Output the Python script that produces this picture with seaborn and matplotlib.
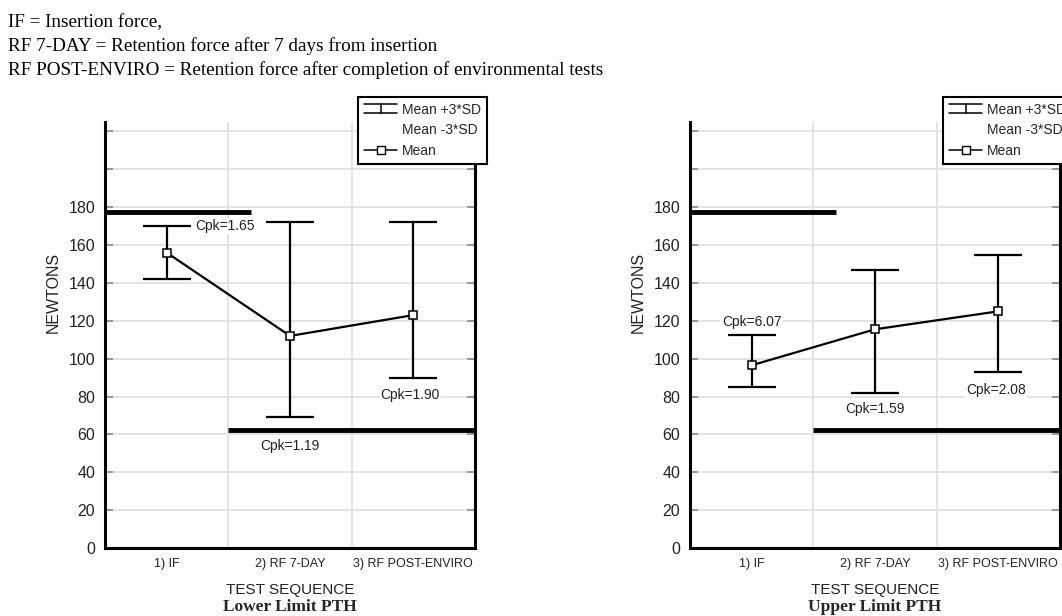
import seaborn as sns
import numpy as np
import pandas as pd
import matplotlib.pyplot as plt
from matplotlib.lines import Line2D
from matplotlib.legend_handler import HandlerBase

categories = ['1) IF', '2) RF 7-DAY', '3) RF POST-ENVIRO']

# lower limit PTH
low_mean = [156, 112, 123]
low_hi = [170, 172, 172]
low_lo = [142, 69, 90]
low_cpk = ['Cpk=1.65', 'Cpk=1.19', 'Cpk=1.90']

# upper limit PTH
up_mean = [96.5, 115.5, 125]
up_hi = [112.5, 147, 155]
up_lo = [85, 82, 93]
up_cpk = ['Cpk=6.07', 'Cpk=1.59', 'Cpk=2.08']

spec_max = 177.5
spec_min = 62.5

yticks = list(range(0, 221, 20))
ytick_labels = [str(v) if v <= 180 else '' for v in yticks]

notes = ['IF = Insertion force,',
         'RF 7-DAY = Retention force after 7 days from insertion',
         'RF POST-ENVIRO = Retention force after completion of environmental tests']

# where the Cpk notes sit (category units, newtons)
low_cpk_pos = [(0.47, 170), (1.0, 54), (1.97, 81)]
up_cpk_pos = [(0.0, 119.5), (1.0, 73.5), (1.98, 83.5)]


class IBeamHandler(HandlerBase):
    # the "mean +/- 3SD" glyph in the legend
    def create_artists(self, legend, orig_handle, xdescent, ydescent,
                       width, height, fontsize, trans):
        x0, x1 = -xdescent, -xdescent + width
        xm = (x0 + x1) / 2
        yt = -ydescent + height * 1.05
        yb = -ydescent + height * 0.1
        arts = [Line2D([x0, x1], [yt, yt]), Line2D([x0, x1], [yb, yb]),
                Line2D([xm, xm], [yb, yt])]
        for a in arts:
            a.set_color('black')
            a.set_linewidth(1.1)
            a.set_transform(trans)
        return arts


def draw_panel(ax, mean, hi, lo, cpk, cpk_pos, subtitle):
    x = np.arange(len(categories))
    df = pd.DataFrame({'step': x, 'mean': mean, 'hi': hi, 'lo': lo})
    err = [df['mean'] - df['lo'], df['hi'] - df['mean']]
    ax.errorbar(df['step'], df['mean'], yerr=err, fmt='none', ecolor='black',
                elinewidth=1.6, capsize=17, capthick=1.6, zorder=3)
    sns.lineplot(data=df, x='step', y='mean', ax=ax, color='black', lw=1.6,
                 marker='s', markersize=6, markerfacecolor='white',
                 markeredgecolor='black', markeredgewidth=1.1, zorder=4)

    ax.hlines(spec_max, -0.5, 0.68, colors='black', lw=3.5, zorder=3)
    ax.hlines(spec_min, 0.5, 2.5, colors='black', lw=3.5, zorder=3)

    for (px, py), lab in zip(cpk_pos, cpk):
        ax.text(px, py, lab, ha='center', va='center', fontsize=10, color='#222',
                zorder=5, bbox=dict(facecolor='white', edgecolor='none', pad=1.0))

    ax.set_xlim(-0.5, 2.5)
    ax.set_ylim(0, 225)
    ax.set_xticks(x)
    ax.set_xticklabels(categories)
    ax.set_xticks([0.5, 1.5], minor=True)
    ax.set_yticks(yticks)
    ax.set_yticklabels(ytick_labels)
    ax.grid(axis='y', which='major', color='#e2e2e2', lw=1.3)
    ax.grid(axis='x', which='minor', color='#e2e2e2', lw=1.3)
    ax.set_axisbelow(True)
    ax.tick_params(axis='x', which='both', length=0, labelsize=9, pad=7,
                   labelcolor='#222')
    ax.tick_params(axis='y', which='major', direction='in', left=True, right=True,
                   length=6, width=1.2, color='#8a8a8a', labelsize=11.5, pad=7,
                   labelcolor='#222')
    for s in ['left', 'bottom', 'right']:
        ax.spines[s].set_visible(True)
        ax.spines[s].set_linewidth(2.2)
        ax.spines[s].set_color('black')
    ax.spines['top'].set_visible(False)

    ax.set_xlabel('')
    ax.set_ylabel('')
    ax.text(-0.141, 0.6, 'NEWTONS', rotation=90, ha='center', va='center',
            fontsize=11.5, color='#222', transform=ax.transAxes)
    ax.text(0.5, -0.099, 'TEST SEQUENCE', ha='center', va='center',
            fontsize=11, color='#222', transform=ax.transAxes)
    ax.text(0.5, -0.139, subtitle, ha='center', va='center', fontsize=12.5,
            fontweight='bold', family='Liberation Serif', transform=ax.transAxes)

    ib = Line2D([], [])
    blank = Line2D([], [], linestyle='none')
    mean_h = Line2D([], [], color='black', lw=1.1, marker='s', markersize=6,
                    markerfacecolor='white', markeredgecolor='black')
    leg = ax.legend([ib, blank, mean_h], ['Mean +3*SD', 'Mean -3*SD', 'Mean'],
                    handler_map={ib: IBeamHandler()}, loc='upper right',
                    bbox_to_anchor=(1.032, 1.059), frameon=True, fancybox=False,
                    edgecolor='black', framealpha=1, fontsize=10,
                    handlelength=2.4, handletextpad=0.3, labelspacing=0.45,
                    borderpad=0.45, borderaxespad=0)
    leg.get_frame().set_linewidth(1.5)
    leg.set_zorder(10)


sns.set_theme(style='white')
plt.rcParams['font.family'] = ['Liberation Sans', 'DejaVu Sans']

fig = plt.figure(figsize=(10.62, 6.16), dpi=100)
ax1 = fig.add_axes([0.0989, 0.1104, 0.3484, 0.6916])
ax2 = fig.add_axes([0.6497, 0.1104, 0.3484, 0.6916])

draw_panel(ax1, low_mean, low_hi, low_lo, low_cpk, low_cpk_pos, 'Lower Limit PTH')
draw_panel(ax2, up_mean, up_hi, up_lo, up_cpk, up_cpk_pos, 'Upper Limit PTH')

for i, line in enumerate(notes):
    fig.text(0.0075, 1 - (27 + 24 * i) / 616, line, ha='left', va='baseline',
             fontsize=13.8, family='Liberation Serif', color='black')

fig.savefig('out.png', dpi=100)
